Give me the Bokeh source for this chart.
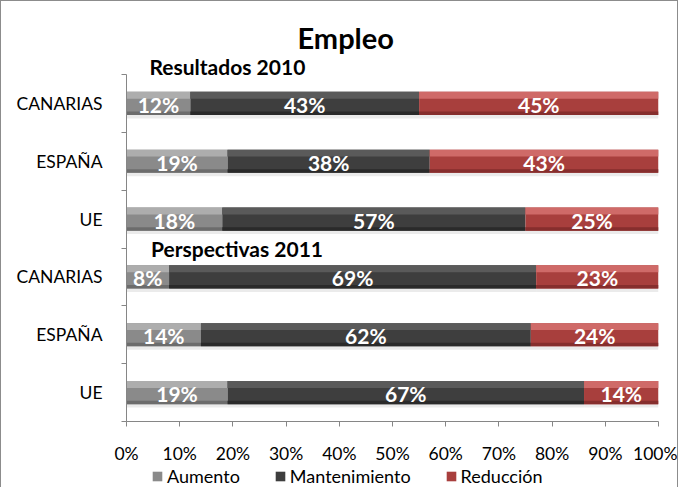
from bokeh.plotting import figure
from bokeh.layouts import column
from bokeh.models import (ColumnDataSource, FixedTicker, Range1d, Label, Legend,
                          LegendItem, LabelSet, Title)
from bokeh.transform import dodge
from bokeh.core.properties import value
from bokeh.embed import file_html
from bokeh.resources import INLINE

title = "Empleo"
groups = ["Resultados 2010", "Perspectivas 2011"]
categories = ["CANARIAS", "ESPAÑA", "UE", "CANARIAS", "ESPAÑA", "UE"]
aumento = [12, 19, 18, 8, 14, 19]
mantenimiento = [43, 38, 57, 69, 62, 67]
reduccion = [45, 43, 25, 23, 24, 14]
series_names = ["Aumento", "Mantenimiento", "Reducción"]
colors = ["#8a8a8a", "#3e3e3e", "#a83f3d"]
highlights = ["#adadad", "#5a5a5a", "#cf6a68"]
shades = ["#6c6c6c", "#2a2a2a", "#862e2d"]
x_ticks = [0, 10, 20, 30, 40, 50, 60, 70, 80, 90, 100]

FONT = "Lato"
BORDER = "1px solid #8c8c8c"
n = len(categories)
ypos = [n - 1 - i for i in range(n)]

series = [aumento, mantenimiento, reduccion]
lefts, rights = [], []
acc = [0] * n
for s in series:
    lefts.append(list(acc))
    acc = [a + v for a, v in zip(acc, s)]
    rights.append(list(acc))

p = figure(width=678, height=465, x_range=Range1d(0, 100), y_range=Range1d(-0.5, n - 0.5),
           min_border_left=125, min_border_right=21, min_border_top=73, min_border_bottom=42,
           output_backend="svg", toolbar_location=None)
p.styles = {"border-top": BORDER, "border-left": BORDER, "border-right": BORDER}
p.xgrid.visible = False
p.ygrid.visible = False
p.outline_line_color = None
p.background_fill_color = "white"

BAR_H = 0.4
sources = []
renderers = []
for k, (name, col) in enumerate(zip(series_names, colors)):
    src = ColumnDataSource(dict(y=ypos, left=lefts[k], right=rights[k], v=series[k],
                                mid=[(l + r) / 2 for l, r in zip(lefts[k], rights[k])],
                                lab=[f"{v}%" for v in series[k]]))
    sources.append(src)
    # soft shadow under the bar
    p.hbar(y=dodge("y", -BAR_H / 2 - 0.03, range=p.y_range), left="left", right="right",
           height=0.06, source=src, fill_color="#000000", fill_alpha=0.08, line_color=None)
    r = p.hbar(y="y", left="left", right="right", height=BAR_H, source=src,
               fill_color=col, line_color=None)
    # bevel: lighter top band and darker bottom edge
    p.hbar(y=dodge("y", BAR_H / 2 - 0.06, range=p.y_range), left="left", right="right",
           height=0.12, source=src, fill_color=highlights[k], line_color=None)
    p.hbar(y=dodge("y", -BAR_H / 2 + 0.03, range=p.y_range), left="left", right="right",
           height=0.06, source=src, fill_color=shades[k], line_color=None)
    renderers.append(r)
    ls = LabelSet(x="mid", y="y", text="lab", source=src, text_align="center",
                  text_baseline="middle", text_color="white", text_font=value(FONT),
                  text_font_style="bold", text_font_size="21px", y_offset=-1)
    p.add_layout(ls)

# axes
p.xaxis.ticker = FixedTicker(ticks=x_ticks)
p.xaxis.major_label_overrides = {t: f"{t}%" for t in x_ticks}
p.xaxis.major_label_standoff = 16
p.xaxis.major_tick_in = 0
p.xaxis.major_tick_out = 5
p.xaxis.minor_tick_line_color = None

bounds = [y + 0.5 for y in ypos] + [-0.5]
p.yaxis.ticker = FixedTicker(ticks=ypos, minor_ticks=bounds)
p.yaxis.major_label_overrides = {y: c for y, c in zip(ypos, categories)}
p.yaxis.minor_tick_in = 0
p.yaxis.minor_tick_out = 5
p.yaxis.major_label_standoff = 18

for ax in (p.xaxis[0], p.yaxis[0]):
    ax.axis_line_color = "#868686"
    ax.major_label_text_font = FONT
    ax.major_label_text_font_size = "17.5px"
    ax.major_label_text_color = "black"
p.xaxis.major_tick_line_color = "#868686"
p.yaxis.major_tick_line_color = None
p.yaxis.minor_tick_line_color = "#868686"

# titles (stacked above the frame)
p.add_layout(Title(text=groups[0], align="left", offset=23, standoff=-9, text_color="black",
                   text_font=FONT, text_font_style="bold", text_font_size="21px"), "above")
p.add_layout(Title(text=title, align="left", offset=171, standoff=3, text_color="black",
                   text_font=FONT, text_font_style="bold", text_font_size="29px"), "above")

p.add_layout(Label(x=4.6, y=2.5, text=groups[1], text_color="black",
                   text_font=FONT, text_font_style="bold", text_font_size="21px",
                   text_baseline="middle"))

# legend strip below the chart
pl = figure(width=678, height=22, min_border=0, x_axis_location=None, y_axis_location=None,
            output_backend="svg", toolbar_location=None)
pl.styles = {"border-left": BORDER, "border-right": BORDER}
pl.xgrid.visible = False
pl.ygrid.visible = False
pl.outline_line_color = None
leg_renderers = [pl.hbar(y="y", left="left", right="right", height=0, source=src,
                         fill_color=c, line_color=None)
                 for src, c in zip(sources, colors)]
legend = Legend(items=[LegendItem(label=nm, renderers=[r]) for nm, r in zip(series_names, leg_renderers)],
                orientation="horizontal", location=(25, 0), label_text_font=FONT,
                label_text_font_size="18px", label_text_color="black",
                glyph_width=12, glyph_height=12,
                label_height=18, spacing=34, label_standoff=4, background_fill_alpha=0,
                border_line_color=None, padding=0, margin=0)
pl.add_layout(legend, "center")

layout = column(p, pl, spacing=0)
open("out.html", "w").write(file_html(layout, INLINE))
